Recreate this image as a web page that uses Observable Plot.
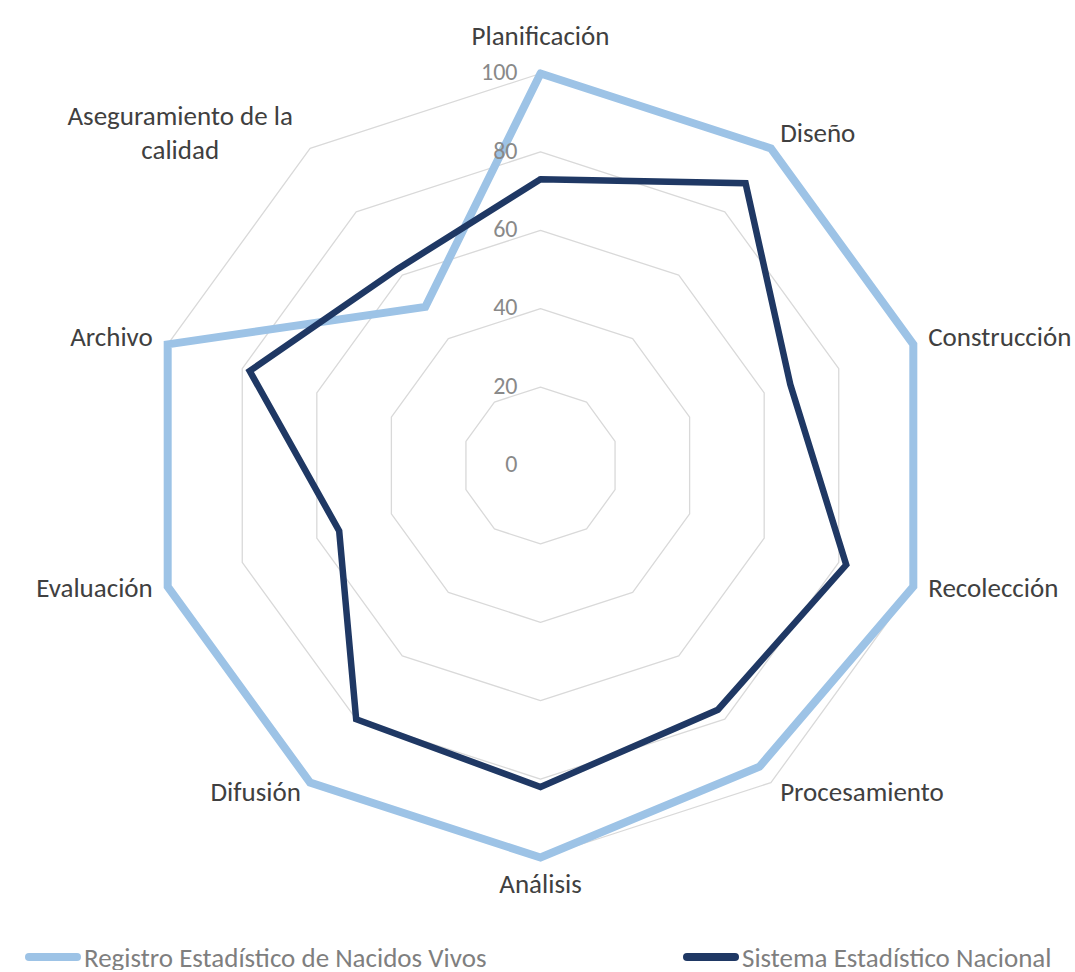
<!DOCTYPE html>
<html>
<head>
<meta charset="utf-8">
<script src="https://cdn.jsdelivr.net/npm/d3@7"></script>
<script src="https://cdn.jsdelivr.net/npm/@observablehq/plot@0.6"></script>
<style>
  body { margin: 0; background: #fff; font-family: Carlito, Lato, "Liberation Sans", sans-serif; }
  #legend { position: relative; height: 30px; font-size: 27px; color: #7f7f7f; }
  .item { position: absolute; top: 2px; height: 30px; display: flex; align-items: center; }
  .swatch { width: 56px; height: 8px; border-radius: 4px; margin-right: 3px; }
</style>
</head>
<body>
<div id="chart"></div>
<div id="legend"></div>
<script>
const categories = ["Planificación", "Diseño", "Construcción", "Recolección", "Procesamiento", "Análisis", "Difusión", "Evaluación", "Archivo", "Aseguramiento de la\ncalidad"];
const seriesNames = ["Registro Estadístico de Nacidos Vivos", "Sistema Estadístico Nacional"];
const registroValues = [100, 100, 100, 100, 95, 100, 100, 100, 100, 50];
const sistemaValues = [73, 89, 67, 82, 77, 82, 80, 54, 78, 62];
const tickValues = [0, 20, 40, 60, 80, 100];
const gridLevels = [20, 40, 60, 80, 100];
const colors = ["#9DC3E6", "#1F3864"];

const FONT = "Carlito, Lato, 'Liberation Sans', sans-serif";
const LABEL_SIZE = 27;
const n = categories.length;
const ang = i => (2 * Math.PI * i) / n;
const px = (r, i) => r * Math.sin(ang(i));
const py = (r, i) => r * Math.cos(ang(i));

const grid = gridLevels.flatMap(l => d3.range(n + 1).map(i => ({level: l, i: i % n})));
const series = [registroValues, sistemaValues].flatMap((vals, s) =>
  d3.range(n + 1).map(i => ({series: seriesNames[s], v: vals[i % n], i: i % n})));

const ctx = document.createElement("canvas").getContext("2d");
ctx.font = `${LABEL_SIZE}px ${FONT}`;
const textWidth = t => d3.max(t.split("\n"), l => ctx.measureText(l).width);

const labels = categories.map((c, i) => {
  const s = Math.sin(ang(i));
  const anchor = s > 0.1 ? "start" : s < -0.1 ? "end" : "middle";
  const off = anchor === "middle" ? (Math.cos(ang(i)) > 0 ? 8.8 : 7.6) : 4.0;
  return {label: c, i, anchor, multi: c.includes("\n"), x: px(100 + off, i), y: py(100 + off, i)};
});

const textOpts = {x: "x", y: "y", text: "label", lineAnchor: "middle", dy: -5,
  fontSize: LABEL_SIZE, fill: "#404040", lineHeight: 1.27};
const labelMarks = ["start", "end", "middle"].map(a =>
  Plot.text(labels.filter(d => d.anchor === a && !d.multi), {...textOpts, textAnchor: a}));
// multi-line labels: centered block, placed so the block edge sits where the anchor says
labels.filter(d => d.multi).forEach(d => {
  const w = textWidth(d.label);
  const dx = d.anchor === "end" ? -w / 2 - 8 : d.anchor === "start" ? w / 2 : 0;
  labelMarks.push(Plot.text([d], {...textOpts, textAnchor: "middle", dx}));
});

const chart = Plot.plot({
  width: 1075,
  height: 940,
  marginTop: 0, marginBottom: 0, marginLeft: 0, marginRight: 0,
  x: {domain: [-100, 100], range: [540 - 392, 540 + 392], axis: null},
  y: {domain: [-100, 100], range: [465 + 392, 465 - 392], axis: null},
  style: {fontFamily: FONT, background: "#fff"},
  marks: [
    Plot.line(grid, {x: d => px(d.level, d.i), y: d => py(d.level, d.i), z: "level", stroke: "#d9d9d9", strokeWidth: 1.3}),
    Plot.line(series, {x: d => px(d.v, d.i), y: d => py(d.v, d.i), z: "series",
      stroke: "series", strokeWidth: 8, strokeLinejoin: "miter", strokeMiterlimit: 2}),
    Plot.text(tickValues, {x: 0, y: d => d, text: d => String(d), textAnchor: "end", dx: -23, dy: -1, fontSize: 24, fill: "#898989"}),
    ...labelMarks
  ],
  color: {domain: seriesNames, range: colors}
});
chart.querySelectorAll("path").forEach(p => {
  const s = p.getAttribute("stroke");
  if (s && s.toLowerCase() === colors[0].toLowerCase()) p.setAttribute("stroke-width", 8);
  if (s && s.toLowerCase() === colors[1].toLowerCase()) p.setAttribute("stroke-width", 6.5);
});
document.getElementById("chart").appendChild(chart);

const legend = document.getElementById("legend");
const lefts = [25, 683];
seriesNames.forEach((name, k) => {
  const it = document.createElement("div");
  it.className = "item";
  it.style.left = lefts[k] + "px";
  it.innerHTML = `<div class="swatch" style="background:${colors[k]}"></div><span>${name}</span>`;
  legend.appendChild(it);
});
</script>
</body>
</html>
